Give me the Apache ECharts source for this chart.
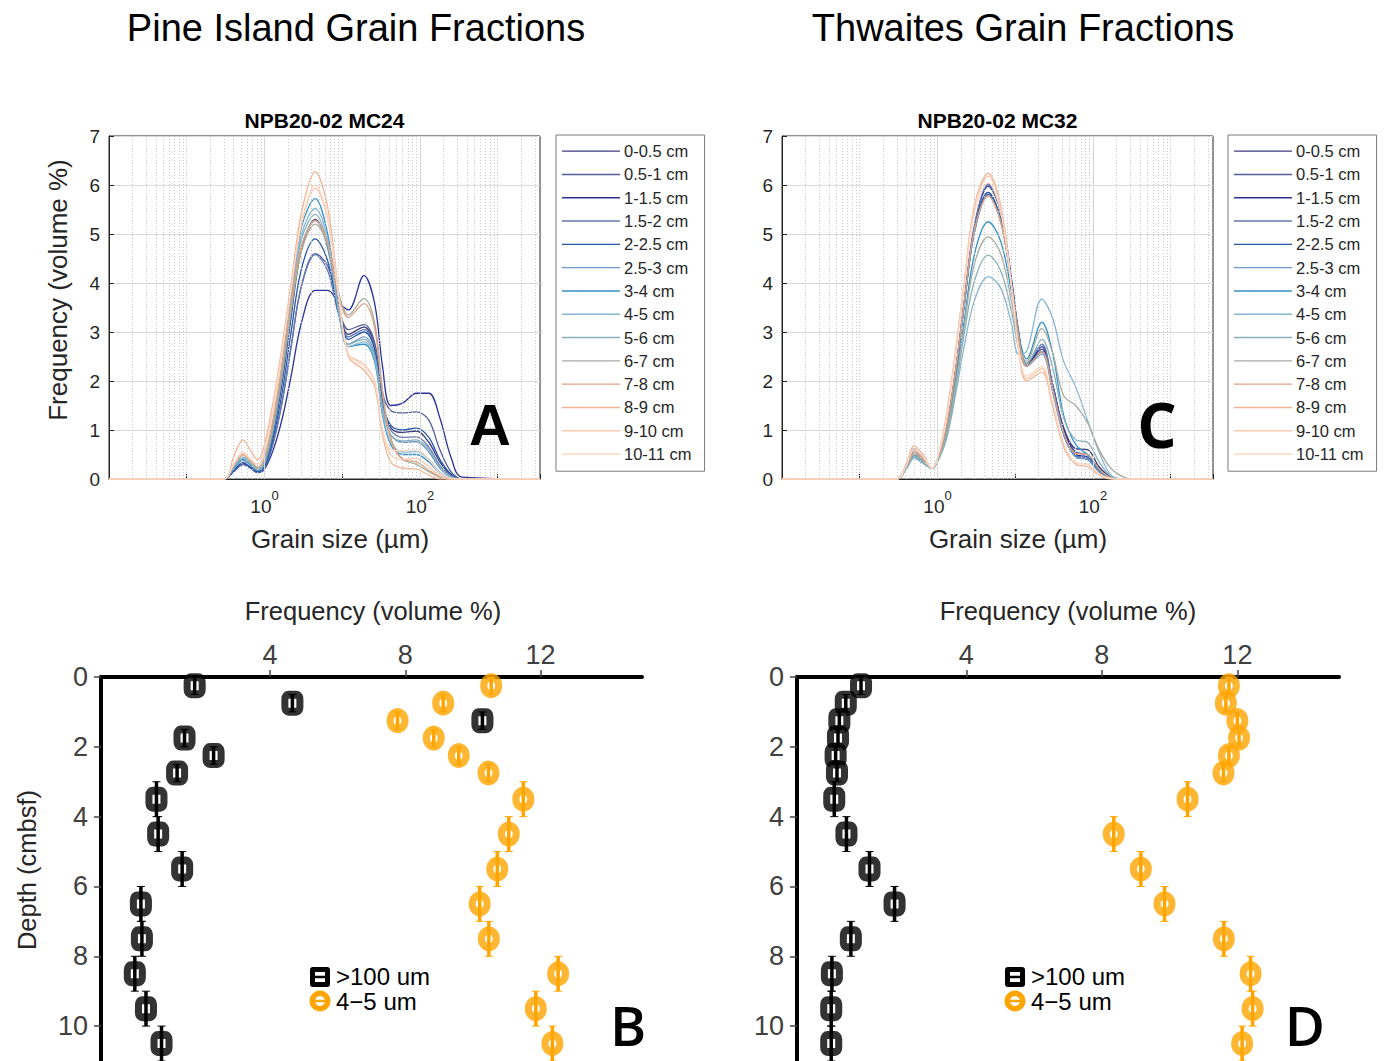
<!DOCTYPE html>
<html><head><meta charset="utf-8">
<script src="https://cdn.jsdelivr.net/npm/echarts@6/dist/echarts.min.js"></script>
<style>html,body{margin:0;padding:0;background:#fff}#c{width:1384px;height:1061px}</style>
</head><body><div id="c"></div><script>
// ---------- DATA ----------
const sampleLabels = ['0-0.5 cm','0.5-1 cm','1-1.5 cm','1.5-2 cm','2-2.5 cm','2.5-3 cm','3-4 cm','4-5 cm','5-6 cm','6-7 cm','7-8 cm','8-9 cm','9-10 cm','10-11 cm'];
const sampleColors = ['#3a3c7e','#565d99','#2a329a','#6677b5','#2458a6','#6b9ac6','#3390c8','#86b6d2','#88b0ba','#a5ad9e','#dca284','#f2b493','#f8c9ae','#fcd9c6'];

// grain size sample points (micrometres)
const grainA = [0.01,0.3,0.4,0.53,0.65,0.82,1.0,1.3,1.7,2.2,3,4.5,6.5,9,12,19,26,33,42,60,90,130,180,250,350,3500];
const grainC = [0.01,0.3,0.4,0.5,0.65,0.85,1.0,1.3,1.7,2.2,3,4.5,6.5,9,11,14,22,30,42,60,85,120,170,250,350,3500];

// Pine Island (NPB20-02 MC24) frequency (volume %)
const pig_0_05  = [0,0,0.18,0.33,0.25,0.15,0.30,0.95,2.00,3.30,4.70,5.30,4.75,3.55,2.95,3.10,2.75,1.60,1.05,0.95,0.98,0.75,0.35,0.08,0,0];
const pig_05_1  = [0,0,0.15,0.30,0.24,0.14,0.22,0.75,1.60,2.70,3.95,4.60,4.35,3.50,3.05,3.15,2.80,1.75,1.40,1.35,1.37,1.20,0.60,0.15,0,0];
const pig_1_15  = [0,0,0.15,0.30,0.23,0.13,0.20,0.60,1.25,2.10,3.20,3.85,3.85,3.60,3.45,4.15,3.60,2.30,1.50,1.55,1.75,1.75,1.25,0.45,0.04,0];
const pig_15_2  = [0,0,0.15,0.30,0.24,0.14,0.22,0.75,1.60,2.70,3.95,4.58,4.25,3.35,2.90,3.05,2.70,1.55,1.00,0.85,0.86,0.65,0.28,0.06,0,0];
const pig_2_25  = [0,0,0.17,0.33,0.25,0.15,0.25,0.85,1.80,3.00,4.30,4.90,4.45,3.40,2.85,3.00,2.65,1.55,1.10,1.00,1.04,0.85,0.40,0.10,0,0];
const pig_25_3  = [0,0,0.20,0.38,0.29,0.17,0.30,1.00,2.10,3.40,4.75,5.28,4.70,3.40,2.75,2.90,2.55,1.45,0.90,0.75,0.76,0.55,0.22,0.04,0,0];
const pig_3_4   = [0,0,0.22,0.40,0.30,0.18,0.35,1.15,2.35,3.75,5.15,5.72,5.00,3.50,2.70,2.75,2.40,1.30,0.70,0.50,0.50,0.35,0.12,0.02,0,0];
const pig_4_5   = [0,0,0.23,0.42,0.32,0.19,0.35,1.10,2.30,3.65,5.00,5.52,4.90,3.45,2.70,2.80,2.45,1.35,0.75,0.55,0.56,0.40,0.14,0.02,0,0];
const pig_5_6   = [0,0,0.25,0.45,0.34,0.20,0.35,1.10,2.25,3.55,4.90,5.40,4.80,3.45,2.75,2.85,2.50,1.45,0.90,0.78,0.80,0.60,0.25,0.05,0,0];
const pig_6_7   = [0,0,0.27,0.50,0.37,0.22,0.40,1.10,2.20,3.45,4.65,5.20,4.80,3.80,3.35,3.68,3.20,1.80,0.85,0.40,0.30,0.15,0.04,0,0,0];
const pig_7_8   = [0,0,0.28,0.50,0.38,0.24,0.45,1.25,2.40,3.60,4.75,5.27,4.80,3.75,3.30,3.58,3.10,1.75,0.80,0.40,0.35,0.18,0.05,0,0,0];
const pig_8_9   = [0,0,0.45,0.80,0.60,0.39,0.70,1.60,2.75,4.00,5.45,6.27,5.55,3.80,2.50,2.22,1.90,0.90,0.35,0.22,0.20,0.08,0,0,0,0];
const pig_9_10  = [0,0,0.30,0.52,0.40,0.30,0.55,1.45,2.60,3.85,5.20,5.93,5.30,3.70,2.55,2.35,2.00,1.00,0.50,0.40,0.42,0.25,0.07,0,0,0];
const pig_10_11 = [0,0,0.30,0.55,0.42,0.30,0.55,1.50,2.65,3.90,5.25,6.00,5.35,3.75,2.55,2.30,2.00,1.00,0.60,0.58,0.60,0.40,0.12,0.02,0,0];
const pineIslandCurves = [pig_0_05,pig_05_1,pig_1_15,pig_15_2,pig_2_25,pig_25_3,pig_3_4,pig_4_5,pig_5_6,pig_6_7,pig_7_8,pig_8_9,pig_9_10,pig_10_11];

// Thwaites (NPB20-02 MC32) frequency (volume %)
const thw_0_05  = [0,0,0.30,0.62,0.45,0.22,0.40,1.05,2.20,3.60,5.10,5.85,5.30,4.00,3.00,2.35,2.65,1.95,1.05,0.62,0.60,0.25,0.04,0,0,0];
const thw_05_1  = [0,0,0.27,0.55,0.42,0.22,0.40,1.00,2.15,3.55,5.05,5.81,5.30,4.00,3.00,2.35,2.60,1.90,1.00,0.55,0.50,0.20,0.03,0,0,0];
const thw_1_15  = [0,0,0.30,0.60,0.44,0.22,0.38,0.95,2.10,3.55,5.15,5.98,5.45,4.05,3.00,2.30,2.70,1.95,1.00,0.50,0.45,0.18,0.03,0,0,0];
const thw_15_2  = [0,0,0.25,0.50,0.38,0.22,0.38,0.95,2.10,3.60,5.20,6.02,5.45,4.05,3.05,2.35,2.75,1.95,0.95,0.48,0.42,0.16,0.02,0,0,0];
const thw_2_25  = [0,0,0.25,0.50,0.38,0.22,0.38,1.00,2.15,3.55,5.10,5.85,5.30,3.95,2.95,2.30,2.60,1.85,0.90,0.45,0.40,0.15,0.02,0,0,0];
const thw_25_3  = [0,0,0.24,0.48,0.36,0.22,0.38,1.00,2.10,3.50,5.05,5.78,5.25,3.95,2.95,2.30,2.55,1.80,0.90,0.45,0.40,0.15,0.02,0,0,0];
const thw_3_4   = [0,0,0.23,0.45,0.34,0.22,0.36,0.90,1.95,3.20,4.60,5.25,4.85,3.80,2.95,2.45,3.20,2.60,1.30,0.70,0.50,0.20,0.03,0,0,0];
const thw_4_5   = [0,0,0.21,0.42,0.32,0.22,0.35,0.80,1.70,2.70,3.65,4.13,3.90,3.15,2.55,2.60,3.67,3.30,2.40,1.88,1.20,0.55,0.08,0,0,0];
const thw_5_6   = [0,0,0.23,0.45,0.34,0.22,0.36,0.85,1.80,2.95,4.05,4.57,4.25,3.40,2.70,2.35,2.85,2.30,1.25,0.80,0.75,0.35,0.06,0,0,0];
const thw_6_7   = [0,0,0.25,0.50,0.38,0.22,0.37,0.90,1.90,3.10,4.40,4.94,4.60,3.60,2.80,2.40,3.07,2.60,1.70,1.50,1.15,0.60,0.22,0.04,0,0];
const thw_7_8   = [0,0,0.27,0.55,0.42,0.22,0.40,1.05,2.20,3.60,5.10,5.78,5.25,3.95,2.95,2.30,2.60,1.85,0.95,0.52,0.50,0.20,0.03,0,0,0];
const thw_8_9   = [0,0,0.33,0.68,0.50,0.22,0.42,1.30,2.60,4.00,5.60,6.24,5.60,3.90,2.65,2.00,2.18,1.50,0.65,0.30,0.25,0.08,0,0,0,0];
const thw_9_10  = [0,0,0.30,0.62,0.46,0.22,0.42,1.25,2.55,3.95,5.55,6.18,5.55,3.90,2.70,2.05,2.25,1.55,0.70,0.33,0.30,0.10,0.01,0,0,0];
const thw_10_11 = [0,0,0.30,0.60,0.45,0.22,0.42,1.20,2.50,3.90,5.45,6.05,5.45,3.90,2.70,2.10,2.30,1.60,0.72,0.33,0.30,0.10,0.01,0,0,0];
const thwaitesCurves = [thw_0_05,thw_05_1,thw_1_15,thw_15_2,thw_2_25,thw_25_3,thw_3_4,thw_4_5,thw_5_6,thw_6_7,thw_7_8,thw_8_9,thw_9_10,thw_10_11];

// Depth profiles
const depth     = [0.25,0.75,1.25,1.75,2.25,2.75,3.5,4.5,5.5,6.5,7.5,8.5,9.5,10.5];
const depthHalf = [0.25,0.25,0.25,0.25,0.25,0.25,0.5,0.5,0.5,0.5,0.5,0.5,0.5,0.5];
const pigCoarse = [1.77,4.66,10.28,1.47,2.33,1.25,0.64,0.69,1.40,0.18,0.21,0.00,0.33,0.79];
const pigFine   = [10.54,9.12,7.77,8.84,9.58,10.46,11.49,11.06,10.72,10.20,10.47,12.52,11.86,12.35];
const thwCoarse = [0.89,0.44,0.25,0.21,0.14,0.18,0.10,0.46,1.14,1.88,0.59,0.03,0.01,0.01];
const thwFine   = [11.75,11.66,12.00,12.05,11.75,11.59,10.53,8.35,9.15,9.85,11.60,12.39,12.45,12.14];
const freqTickValues  = [4,8,12];
const depthTickValues = [0,2,4,6,8,10];
const logLabelExps    = [0,2];

// ---------- CHART ----------
const chart = echarts.init(document.getElementById('c'), null, {renderer:'svg'});
const FONT = '"Liberation Sans", Arial, sans-serif';
const grids = [
  {left:109, top:136, width:431, height:343, show:true, borderColor:'#262626', borderWidth:1},
  {left:782, top:136, width:431, height:343, show:true, borderColor:'#262626', borderWidth:1},
  {left:101, top:677, width:541, height:384},
  {left:797, top:677, width:542, height:384}
];

function logLabel(v){
  const e = Math.log10(v), r = Math.round(e);
  if (Math.abs(e - r) > 1e-6 || logLabelExps.indexOf(r) < 0) return '';
  return '{b|10}{s|' + r + '}';
}
function logX(i){
  return {type:'log', gridIndex:i, logBase:10, min:0.01, max:3500,
    axisLine:{show:true, onZero:false, lineStyle:{color:'#262626', width:1}},
    axisTick:{show:true, inside:true, length:5, lineStyle:{color:'#262626'}},
    splitLine:{show:false},
    axisLabel:{formatter:logLabel, margin:10, showMinLabel:true, showMaxLabel:true,
      rich:{b:{fontSize:19, fontFamily:FONT, color:'#262626', verticalAlign:'bottom', lineHeight:27},
            s:{fontSize:13, fontFamily:FONT, color:'#262626', verticalAlign:'top', lineHeight:27}}}};
}
function freqY(i){
  return {type:'value', gridIndex:i, min:0, max:7, interval:1,
    axisLine:{show:true, onZero:false, lineStyle:{color:'#262626'}},
    axisTick:{show:true, inside:true, length:5, lineStyle:{color:'#262626'}},
    splitLine:{show:true, lineStyle:{color:'#dadada', width:1}},
    axisLabel:{fontSize:19, fontFamily:FONT, color:'#262626', margin:9}};
}
function depthX(i){
  return {type:'value', gridIndex:i, position:'top', min:-1, max:15,
    axisLine:{show:true, onZero:false, lineStyle:{color:'#000', width:4}},
    axisTick:{show:true, customValues:freqTickValues, length:7, lineStyle:{color:'#444', width:1.5}},
    axisLabel:{customValues:freqTickValues, fontSize:27, fontFamily:FONT, color:'#404040', margin:9},
    splitLine:{show:false}};
}
function depthY(i){
  return {type:'value', gridIndex:i, inverse:true, min:0, max:11,
    axisLine:{show:true, onZero:false, lineStyle:{color:'#000', width:4}},
    axisTick:{show:true, customValues:depthTickValues, length:7, lineStyle:{color:'#444', width:1.5}},
    axisLabel:{customValues:depthTickValues, fontSize:27, fontFamily:FONT, color:'#404040', margin:13},
    splitLine:{show:false}};
}

function curveSeries(curves, grain, axis){
  return curves.map((c,i)=>({
    type:'line', name:sampleLabels[i], xAxisIndex:axis, yAxisIndex:axis,
    data: grain.map((g,j)=>[g, c[j]]),
    smooth:0.35, symbol:'none', showSymbol:false, clip:true,
    lineStyle:{width:1.3, color:sampleColors[i]}, itemStyle:{color:sampleColors[i]},
    z:3, animation:false
  }));
}
function gridLineSeries(axis){
  const data = [];
  for (let d=-2; d<=3; d++) for (let k=1; k<=9; k++){
    const v = k*Math.pow(10,d);
    if (v <= 0.0100001 || v >= 3500) continue;
    const major = k===1 && logLabelExps.indexOf(d) >= 0;
    data.push({xAxis:v, lineStyle:{color: major ? '#d6d6d6' : '#c8c8c8', type: major ? 'solid' : [1,2], width:1}});
  }
  return {type:'line', xAxisIndex:axis, yAxisIndex:axis, data:[], silent:true, z:1,
    markLine:{silent:true, symbol:['none','none'], label:{show:false}, animation:false, data:data}};
}
function errRender(color){
  return function(params, api){
    const x = api.value(0), y = api.value(1), h = api.value(2);
    const p1 = api.coord([x, y-h]), p2 = api.coord([x, y+h]);
    return {type:'group', children:[
      {type:'line', shape:{x1:p1[0], y1:p1[1], x2:p2[0], y2:p2[1]}, style:{stroke:color, lineWidth:3.5}},
      {type:'line', shape:{x1:p1[0]-4, y1:p1[1], x2:p1[0]+4, y2:p1[1]}, style:{stroke:color, lineWidth:1}},
      {type:'line', shape:{x1:p2[0]-4, y1:p2[1], x2:p2[0]+4, y2:p2[1]}, style:{stroke:color, lineWidth:1}}
    ]};
  };
}
function profileSeries(values, axis, name, color, symbol){
  return [
    {type:'scatter', name:name, xAxisIndex:axis, yAxisIndex:axis, clip:false,
     data: depth.map((d,i)=>[values[i], d]), symbol:symbol, symbolSize:[15,17],
     itemStyle:{color:'#fff', borderColor:color, borderWidth:7.5}, z:4, animation:false},
    {type:'custom', xAxisIndex:axis, yAxisIndex:axis, clip:false, silent:true,
     data: depth.map((d,i)=>[values[i], d, depthHalf[i]]), renderItem: errRender(color), z:5, animation:false}
  ];
}

function txt(text, x, y, size, opts){
  opts = opts || {};
  return {type:'text', x:x, y:y, rotation:opts.rot||0, silent:true, z:100,
    style:{text:text, fill:opts.color||'#000', align:opts.align||'center', verticalAlign:'middle',
      lineHeight: opts.lh || Math.round(size*1.15),
      font:(opts.weight||'normal') + ' ' + size + 'px ' + (opts.family||FONT)}};
}
function legendMarker(x, y, color, isSquare){
  return {type:'group', x:x, y:y, silent:true, z:100, children:[
    isSquare
      ? {type:'rect', shape:{x:-10, y:-10, width:20, height:20, r:3}, style:{fill:color}}
      : {type:'circle', shape:{cx:0, cy:0, r:10.5}, style:{fill:color}},
    isSquare
      ? {type:'rect', shape:{x:-5, y:-5, width:10, height:10}, style:{fill:'#fff'}}
      : {type:'circle', shape:{cx:0, cy:0, r:5}, style:{fill:'#fff'}},
    {type:'line', shape:{x1:-6, y1:0, x2:6, y2:0}, style:{stroke:color, lineWidth:2.5}}
  ]};
}

const legendCommon = {orient:'vertical', top:135, icon:'rect', itemWidth:58, itemHeight:1.4, itemGap:5.0,
  padding:[7,13,8,6], borderColor:'#7a7a7a', borderWidth:1, backgroundColor:'#fff', selectedMode:false,
  textStyle:{fontSize:16.5, lineHeight:18.3, fontFamily:FONT, color:'#262626', padding:[0,0,0,-1]}, data:sampleLabels};

const option = {
  backgroundColor:'#fff',
  animation:false,
  grid: grids,
  xAxis:[logX(0), logX(1), depthX(2), depthX(3)],
  yAxis:[freqY(0), freqY(1), depthY(2), depthY(3)],
  legend:[Object.assign({left:556}, legendCommon), Object.assign({left:1228}, legendCommon)],
  series: [].concat(
    gridLineSeries(0), gridLineSeries(1),
    curveSeries(pineIslandCurves, grainA, 0),
    curveSeries(thwaitesCurves, grainC, 1),
    profileSeries(pigCoarse, 2, '>100 um', '#000', 'roundRect'),
    profileSeries(pigFine, 2, '4\u22125 um', '#FFA500', 'circle'),
    profileSeries(thwCoarse, 3, '>100 um', '#000', 'roundRect'),
    profileSeries(thwFine, 3, '4\u22125 um', '#FFA500', 'circle')
  ),
  graphic: [
    txt('Pine Island Grain Fractions', 356, 28, 38),
    txt('Thwaites Grain Fractions', 1023, 28, 38),
    txt('NPB20-02 MC24', 324.5, 120, 21, {weight:'bold'}),
    txt('NPB20-02 MC32', 997.5, 120, 21, {weight:'bold'}),
    txt('Grain size (\u00b5m)', 340, 539, 26, {color:'#262626'}),
    txt('Grain size (\u00b5m)', 1018, 539, 26, {color:'#262626'}),
    txt('Frequency (volume %)', 58, 290, 26, {color:'#262626', rot:Math.PI/2}),
    txt('A', 490, 424, 58, {weight:'bold', lh:50}),
    txt('C', 1157, 424, 62, {weight:'bold', lh:52, family:'"Open Sans", sans-serif'}),
    txt('Frequency (volume %)', 373, 611, 25.5, {color:'#262626'}),
    txt('Frequency (volume %)', 1068, 611, 25.5, {color:'#262626'}),
    txt('Depth (cmbsf)', 27, 870, 25.5, {color:'#262626', rot:Math.PI/2}),
    txt('B', 628, 1024, 55, {weight:'600', lh:46, family:'"Open Sans", sans-serif'}),
    txt('D', 1305, 1024, 55, {weight:'600', lh:46, family:'"Open Sans", sans-serif'}),
    legendMarker(320, 977, '#000', true),
    legendMarker(320, 1001, '#FFA500', false),
    legendMarker(1015, 977, '#000', true),
    legendMarker(1015, 1001, '#FFA500', false),
    txt('>100 um', 336, 976, 24, {align:'left', lh:23}),
    txt('4\u22125 um', 336, 1001, 24, {align:'left', lh:23}),
    txt('>100 um', 1031, 976, 24, {align:'left', lh:23}),
    txt('4\u22125 um', 1031, 1001, 24, {align:'left', lh:23})
  ]
};
chart.setOption(option);
</script></body></html>
